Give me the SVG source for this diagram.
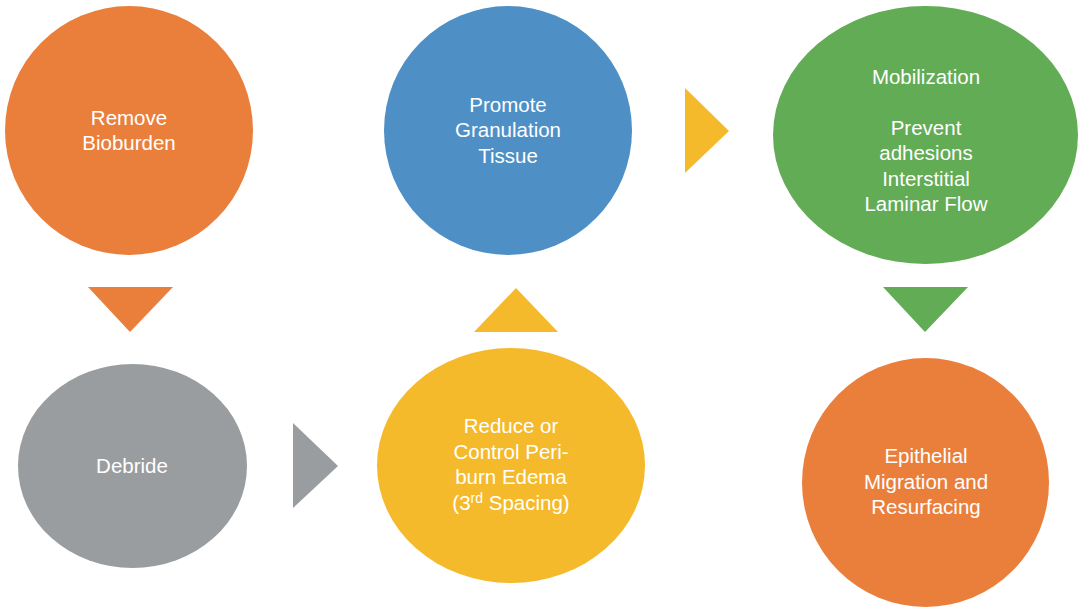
<svg xmlns="http://www.w3.org/2000/svg" width="1080" height="609" viewBox="0 0 1080 609">
<style>
text{font-family:"Liberation Sans",Arial,sans-serif;font-size:20.5px;fill:#ffffff;text-anchor:middle}
.orange{fill:#EA7F3C}.blue{fill:#4E90C6}.green{fill:#62AC56}.yellow{fill:#F5BA2B}.gray{fill:#9A9D9F}
</style>
<rect width="1080" height="609" fill="#ffffff"/>
<g id="n-remove"><ellipse class="orange" cx="129" cy="130.5" rx="124" ry="124.5"/>
<text x="129" y="125">Remove</text><text x="129" y="150">Bioburden</text></g>
<g id="n-debride"><ellipse class="gray" cx="132.5" cy="466" rx="114.5" ry="102"/>
<text x="132" y="473">Debride</text></g>
<g id="n-reduce"><ellipse class="yellow" cx="511" cy="465.5" rx="134" ry="117.5"/>
<text x="511" y="433">Reduce or</text><text x="511" y="459">Control Peri-</text><text x="511" y="484">burn Edema </text><text x="511" y="510">(3<tspan font-size="14" dy="-7">rd</tspan><tspan dy="7"> Spacing)</tspan></text></g>
<g id="n-promote"><ellipse class="blue" cx="508" cy="130.5" rx="124" ry="124.5"/>
<text x="508" y="112">Promote</text><text x="508" y="137">Granulation</text><text x="508" y="163">Tissue</text></g>
<g id="n-mobil"><ellipse class="green" cx="925.5" cy="135" rx="152.5" ry="129"/>
<text x="926" y="84">Mobilization</text><text x="926" y="135">Prevent</text><text x="926" y="160">adhesions</text><text x="926" y="186">Interstitial</text><text x="926" y="211">Laminar Flow</text></g>
<g id="n-epith"><ellipse class="orange" cx="925.5" cy="482.5" rx="123.5" ry="124.5"/>
<text x="926" y="463">Epithelial</text><text x="926" y="489">Migration and</text><text x="926" y="514">Resurfacing</text></g>
<g id="connectors">
<polygon class="orange" points="88,287 173,287 130,332"/>
<polygon class="gray" points="293,423 293,508 338,466"/>
<polygon class="yellow" points="474,332 558,332 516,288"/>
<polygon class="yellow" points="685,88 685,173 729,131"/>
<polygon class="green" points="883,287 968,287 925,332"/>
</g>
</svg>
